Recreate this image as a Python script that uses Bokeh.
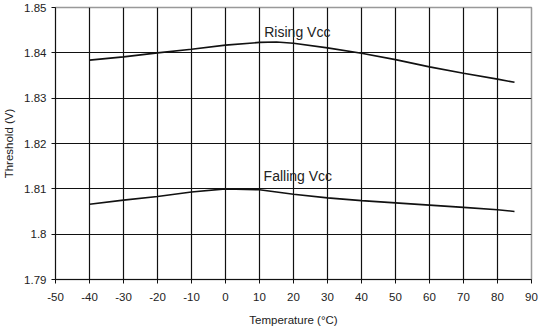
from bokeh.plotting import figure
from bokeh.models import FixedTicker, CustomJSTickFormatter, Range1d
from bokeh.core.properties import value
from bokeh.embed import file_html
from bokeh.resources import INLINE

# Data
temps = [-40, -30, -20, -10, 0, 10, 15, 20, 30, 40, 50, 60, 70, 80, 85]
rising_vcc = [1.8384, 1.8391, 1.8400, 1.8408, 1.8417, 1.8423, 1.8424, 1.8421,
              1.8411, 1.8399, 1.8385, 1.8369, 1.8355, 1.8342, 1.8335]
falling_vcc = [1.8066, 1.8075, 1.8083, 1.8093, 1.8100, 1.8098, 1.8093, 1.8088,
               1.8080, 1.8074, 1.8069, 1.8064, 1.8059, 1.8054, 1.8050]
x_ticks = [-50, -40, -30, -20, -10, 0, 10, 20, 30, 40, 50, 60, 70, 80, 90]
y_ticks = [1.79, 1.80, 1.81, 1.82, 1.83, 1.84, 1.85]
label_texts = ["Rising Vcc", "Falling Vcc"]
label_x = [11.4, 11.2]
label_y = [1.8446, 1.8128]

FONT = "Liberation Sans"
TXT = "#222222"

p = figure(width=540, height=329, output_backend="svg", toolbar_location=None,
           x_range=Range1d(-50, 90), y_range=Range1d(1.79, 1.85),
           min_border_left=52, min_border_right=9, min_border_top=7,
           min_border_bottom=50)

p.background_fill_color = "white"
p.border_fill_color = "white"
p.outline_line_color = "#999999"
p.outline_line_width = 1.5

p.xaxis.ticker = FixedTicker(ticks=x_ticks)
p.yaxis.ticker = FixedTicker(ticks=y_ticks)
p.xaxis.formatter = CustomJSTickFormatter(code="return Math.round(tick).toString();")
p.yaxis.formatter = CustomJSTickFormatter(code="return (Math.round(tick*100)/100).toString();")

for ax in (p.xaxis, p.yaxis):
    ax.major_tick_in = 0
    ax.major_tick_out = 4
    ax.minor_tick_in = 0
    ax.minor_tick_out = 0
    ax.axis_line_color = "#111111"
    ax.major_tick_line_color = "#111111"
    ax.major_label_text_font = FONT
    ax.major_label_text_font_size = "11.5px"
    ax.major_label_text_color = TXT
    ax.axis_label_text_font = FONT
    ax.axis_label_text_font_size = "11.5px"
    ax.axis_label_text_font_style = "normal"
    ax.axis_label_text_color = TXT

p.xaxis.axis_label = "Temperature (°C)"
p.yaxis.axis_label = "Threshold (V)"
p.xaxis.major_label_standoff = 9
p.xaxis.axis_label_standoff = 10
p.yaxis.major_label_standoff = 5
p.yaxis.axis_label_standoff = 6

p.xgrid.ticker = FixedTicker(ticks=x_ticks[1:-1])
p.ygrid.ticker = FixedTicker(ticks=y_ticks[1:-1])
p.xgrid.grid_line_color = "#111111"
p.ygrid.grid_line_color = "#111111"
p.xgrid.grid_line_width = 1.2
p.ygrid.grid_line_width = 1.2

p.line(temps, rising_vcc, line_color="#111111", line_width=1.6)
p.line(temps, falling_vcc, line_color="#111111", line_width=1.6)

p.text(x=label_x, y=label_y, text=label_texts, text_font=value(FONT),
       text_font_size="14px", text_color=TXT, text_baseline="alphabetic",
       text_align="left")

open("out.html", "w").write(file_html(p, INLINE))
